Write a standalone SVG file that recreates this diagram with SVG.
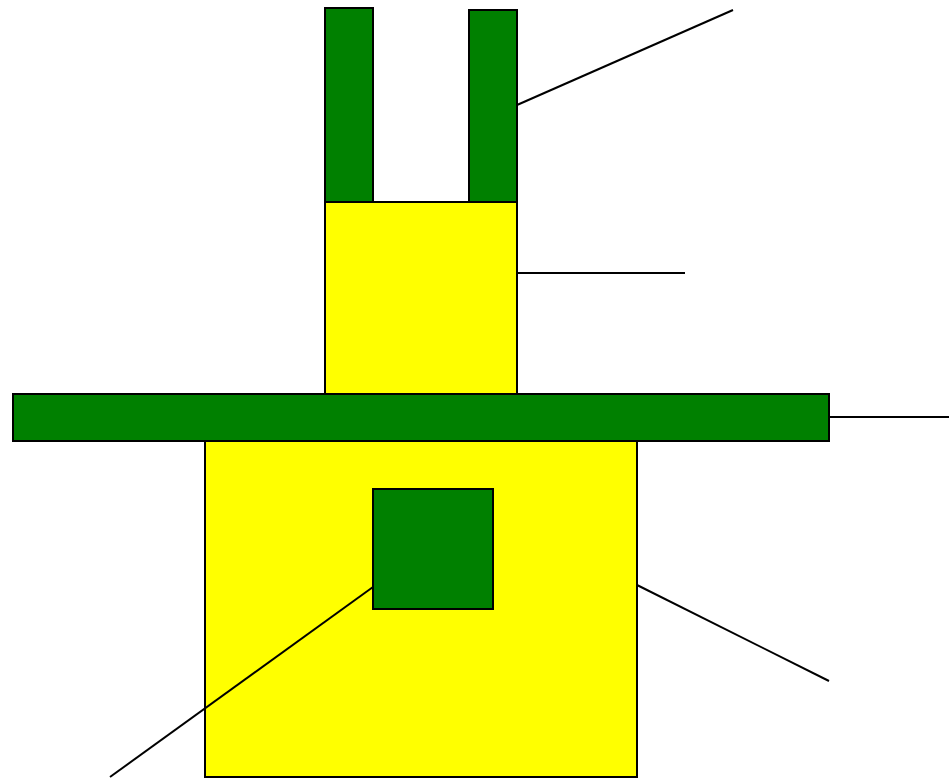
<svg xmlns="http://www.w3.org/2000/svg" width="949" height="778" viewBox="0 0 949 778">
<style>
.g{fill:#008000;stroke:#000;stroke-width:2}
.y{fill:#ffff00;stroke:#000;stroke-width:2}
.c line{stroke:#000;stroke-width:2}
</style>
<rect width="949" height="778" fill="#fff"/>
<g id="prong-left"><rect class="g" x="325" y="8" width="48" height="194"/></g>
<g id="prong-right"><rect class="g" x="469" y="10" width="48" height="192"/></g>
<g id="upper-body"><rect class="y" x="325" y="202" width="192" height="192"/></g>
<g id="lower-body"><rect class="y" x="205" y="441" width="432" height="336"/></g>
<g id="bar"><rect class="g" x="13" y="394" width="816" height="47"/></g>
<g id="square"><rect class="g" x="373" y="489" width="120" height="120"/></g>
<g id="connectors" class="c">
<line x1="517" y1="105" x2="733" y2="10"/>
<line x1="517" y1="273" x2="685" y2="273"/>
<line x1="829" y1="417" x2="949" y2="417"/>
<line x1="637" y1="585" x2="829" y2="681"/>
<line x1="373" y1="587" x2="110" y2="777"/>
</g>
</svg>
